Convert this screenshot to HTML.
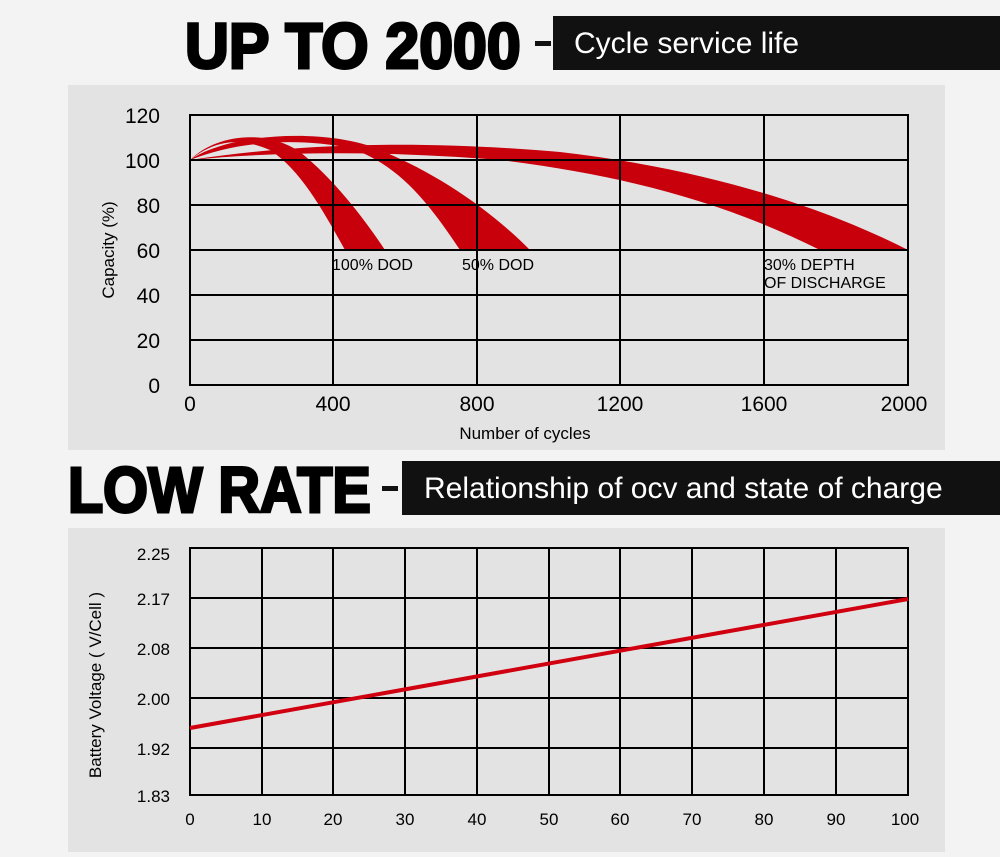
<!DOCTYPE html><html><head><style>body{margin:0;width:1000px;height:852px;background:#f3f3f3;overflow:hidden;font-family:"Liberation Sans",sans-serif}</style></head><body>
<svg width="1000" height="852" xmlns="http://www.w3.org/2000/svg" font-family="Liberation Sans, sans-serif">
<rect x="68" y="85" width="877" height="365" fill="#e3e3e3"/>
<rect x="68" y="528" width="877" height="324" fill="#e3e3e3"/>
<text x="185" y="68" font-size="64" font-weight="bold" transform="translate(185 0) scale(0.95 1) translate(-185 0)" stroke="#000" stroke-width="3">UP TO 2000</text>
<rect x="535" y="41" width="16" height="5" fill="#111"/>
<rect x="553" y="16" width="447" height="54" fill="#111"/>
<text x="574" y="53" font-size="30" fill="#fff">Cycle service life</text>
<text x="68" y="512" font-size="64" font-weight="bold" transform="translate(68 0) scale(0.9 1) translate(-68 0)" stroke="#000" stroke-width="3">LOW RATE</text>
<rect x="382" y="486" width="16" height="5" fill="#111"/>
<rect x="402" y="461" width="598" height="54" fill="#111"/>
<text x="424" y="498" font-size="30" fill="#fff">Relationship of ocv and state of charge</text>
<g fill="#c8000c">
<path d="M190,160 C215,135 265,128 300,152 C335,180 365,220 385,250 L345,250 C320,205 300,170 270,150 C240,137 215,140 190,160Z"/>
<path d="M190,160 C230,132 330,128 380,150 C440,175 490,210 530,250 L460,250 C430,205 400,165 350,148 C300,138 240,140 190,160Z"/>
<path d="M190,160 C300,143 420,140 560,152 C700,168 820,205 908,250 L820,250 C720,200 620,175 500,160 C400,152 290,150 190,160Z"/>
</g>
<g stroke="#000" stroke-width="2" fill="none">
<rect x="190" y="115" width="718" height="270"/>
<path d="M333,115V385M477,115V385M620,115V385M764,115V385M190,160H908M190,205H908M190,250H908M190,295H908M190,340H908"/>
</g>
<g font-size="21" fill="#000" text-anchor="end">
<text x="160" y="123">120</text><text x="160" y="168">100</text><text x="160" y="213">80</text><text x="160" y="258">60</text><text x="160" y="303">40</text><text x="160" y="348">20</text><text x="160" y="393">0</text>
</g>
<g font-size="21" text-anchor="middle">
<text x="190" y="411">0</text><text x="333" y="411">400</text><text x="477" y="411">800</text><text x="620" y="411">1200</text><text x="764" y="411">1600</text><text x="904" y="411">2000</text>
</g>
<text x="525" y="439" font-size="17" text-anchor="middle">Number of cycles</text>
<text transform="translate(114 250) rotate(-90)" font-size="17" text-anchor="middle">Capacity (%)</text>
<g font-size="16"><text x="332" y="270">100% DOD</text><text x="462" y="270">50% DOD</text><text x="764" y="270">30% DEPTH</text><text x="764" y="288">OF DISCHARGE</text></g>
<g stroke="#000" stroke-width="2" fill="none">
<rect x="190" y="548" width="718" height="247"/>
<path d="M262,548V795M333,548V795M405,548V795M477,548V795M549,548V795M620,548V795M692,548V795M764,548V795M836,548V795M190,598H908M190,648H908M190,698H908M190,748H908"/>
</g>
<line x1="190" y1="728" x2="908" y2="599" stroke="#d00010" stroke-width="4"/>
<g font-size="17" text-anchor="end">
<text x="170" y="560">2.25</text><text x="170" y="605">2.17</text><text x="170" y="655">2.08</text><text x="170" y="705">2.00</text><text x="170" y="755">1.92</text><text x="170" y="802">1.83</text>
</g>
<g font-size="17" text-anchor="middle">
<text x="190" y="825">0</text><text x="262" y="825">10</text><text x="333" y="825">20</text><text x="405" y="825">30</text><text x="477" y="825">40</text><text x="549" y="825">50</text><text x="620" y="825">60</text><text x="692" y="825">70</text><text x="764" y="825">80</text><text x="836" y="825">90</text><text x="905" y="825">100</text>
</g>
<text transform="translate(101 685) rotate(-90)" font-size="17" text-anchor="middle">Battery Voltage ( V/Cell )</text>
</svg></body></html>
